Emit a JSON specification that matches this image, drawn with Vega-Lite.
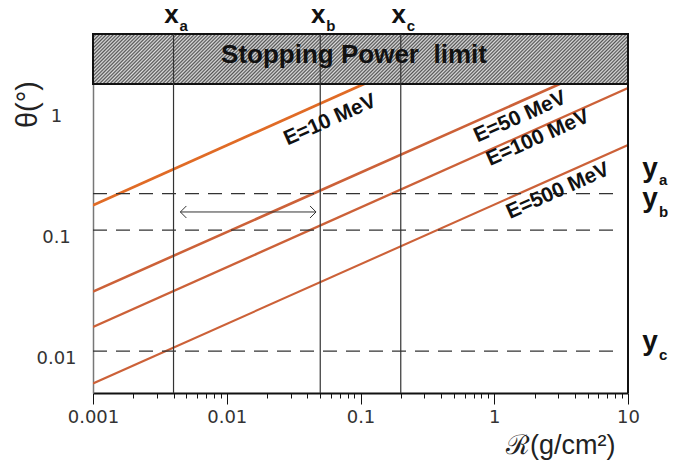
{
  "$schema": "https://vega.github.io/schema/vega-lite/v6.json",
  "width": 535,
  "height": 359,
  "autosize": {"type": "none"},
  "padding": {"left": 93, "top": 34, "right": 46, "bottom": 74},
  "background": "white",
  "config": {"view": {"stroke": null}, "axis": {"grid": false}},
  "resolve": {"axis": {"x": "independent"}},
  "datasets": {
    "lines": [
      {"E": "10", "R": 0.001, "theta": 0.16},
      {"E": "10", "R": 10, "theta": 15.3},
      {"E": "50", "R": 0.001, "theta": 0.031},
      {"E": "50", "R": 10, "theta": 2.87},
      {"E": "100", "R": 0.001, "theta": 0.0158},
      {"E": "100", "R": 10, "theta": 1.49},
      {"E": "500", "R": 0.001, "theta": 0.0054},
      {"E": "500", "R": 10, "theta": 0.504}
    ],
    "hlines": [{"theta": 0.2}, {"theta": 0.1}, {"theta": 0.01}],
    "vlines": [{"R": 0.004}, {"R": 0.05}, {"R": 0.2}],
    "frame": [{"R": 10}],
    "arrow": [
      {"end": "left", "R": 0.0045, "theta": 0.141},
      {"end": "right", "R": 0.0465, "theta": 0.141}
    ],
    "box": [{"R": 0.001, "R2": 10, "theta": 1.61, "theta2": 4.17}],
    "boxtext": [{"label": "Stopping Power\u00a0 limit", "R": 0.0894, "theta": 2.8}],
    "elabels": [
      {"label": "E=10 MeV", "R": 0.0592, "theta": 0.811},
      {"label": "E=50 MeV", "R": 1.56, "theta": 0.86},
      {"label": "E=100 MeV", "R": 2.12, "theta": 0.576},
      {"label": "E=500 MeV", "R": 3.0, "theta": 0.21}
    ],
    "xlabels": [
      {"main": "x", "sub": "a", "R": 0.004, "theta": 5.14, "theta2": 4.42},
      {"main": "x", "sub": "b", "R": 0.05, "theta": 5.14, "theta2": 4.42},
      {"main": "x", "sub": "c", "R": 0.2, "theta": 5.14, "theta2": 4.42}
    ],
    "ylabels": [
      {"main": "y", "sub": "a", "R": 14.6, "theta": 0.274, "theta2": 0.235},
      {"main": "y", "sub": "b", "R": 14.6, "theta": 0.155, "theta2": 0.128},
      {"main": "y", "sub": "c", "R": 14.6, "theta": 0.0102, "theta2": 0.00843}
    ]
  },
  "layer": [
    {
      "data": {"name": "lines"},
      "mark": {"type": "line", "clip": true},
      "encoding": {
        "x": {
          "field": "R", "type": "quantitative",
          "scale": {"type": "log", "domain": [0.001, 10], "nice": false, "zero": false},
          "axis": {
            "orient": "bottom",
            "values": [0.001, 0.01, 0.1, 1, 10],
            "labelExpr": "'' + datum.value",
            "tickSize": 11,
            "tickColor": "#111",
            "tickWidth": 1,
            "domainColor": "#111",
            "domainWidth": 2,
            "labelFont": "DejaVu Sans",
            "labelFontSize": 18,
            "labelColor": "#333",
            "labelPadding": 4,
            "labelFlush": false,
            "labelOverlap": false,
            "title": "ℛ(g/cm²)",
            "titleFont": "Liberation Sans",
            "titleFontSize": 27,
            "titleFontWeight": "normal",
            "titleColor": "#222",
            "titleAlign": "right",
            "titleAnchor": "end",
            "titleX": 522,
            "titleY": 60,
            "titleBaseline": "alphabetic"
          }
        },
        "y": {
          "field": "theta", "type": "quantitative",
          "scale": {"type": "log", "domain": [0.0045, 4.17], "nice": false, "zero": false},
          "axis": {
            "values": [0.01, 0.1, 1],
            "labelExpr": "'' + datum.value",
            "ticks": false,
            "tickSize": 0,
            "labelAlign": "center",
            "labelPadding": 37,
            "labelOffset": 7,
            "labelFont": "DejaVu Sans",
            "labelFontSize": 18,
            "labelColor": "#333",
            "domainColor": "#777",
            "domainWidth": 1.5,
            "title": "θ(°)",
            "titleFont": "Liberation Sans",
            "titleFontSize": 29,
            "titleFontWeight": "normal",
            "titleColor": "#222",
            "titleX": -66,
            "titleY": 70,
            "titleAngle": 270,
            "titleAlign": "center",
            "titleBaseline": "middle"
          }
        },
        "color": {
          "field": "E", "type": "nominal",
          "scale": {"domain": ["10", "50", "100", "500"], "range": ["#e06b26", "#cc6138", "#cc6138", "#cc6138"]},
          "legend": null
        },
        "size": {
          "field": "E", "type": "nominal",
          "scale": {"domain": ["10", "50", "100", "500"], "range": [2.8, 2.1, 2.1, 2.1]},
          "legend": null
        },
        "detail": {"field": "E"}
      }
    },
    {
      "data": {"name": "hlines"},
      "mark": {"type": "rule", "color": "#333", "strokeWidth": 1.2, "strokeDash": [14, 9]},
      "encoding": {
        "y": {"field": "theta", "type": "quantitative"},
        "x": {"datum": 0.001, "axis": null},
        "x2": {"datum": 9}
      }
    },
    {
      "data": {"name": "arrow"},
      "mark": {"type": "line", "color": "#333", "strokeWidth": 1},
      "encoding": {
        "x": {"field": "R", "type": "quantitative", "axis": null},
        "y": {"field": "theta", "type": "quantitative"}
      }
    },
    {
      "data": {"name": "arrow"},
      "transform": [{"filter": "datum.end == 'left'"}],
      "mark": {"type": "point", "shape": "M1,-1L0,0L1,1", "size": 144, "filled": false, "stroke": "#333", "strokeWidth": 1, "opacity": 1},
      "encoding": {
        "x": {"field": "R", "type": "quantitative", "axis": null},
        "y": {"field": "theta", "type": "quantitative"}
      }
    },
    {
      "data": {"name": "arrow"},
      "transform": [{"filter": "datum.end == 'right'"}],
      "mark": {"type": "point", "shape": "M-1,-1L0,0L-1,1", "size": 144, "filled": false, "stroke": "#333", "strokeWidth": 1, "opacity": 1},
      "encoding": {
        "x": {"field": "R", "type": "quantitative", "axis": null},
        "y": {"field": "theta", "type": "quantitative"}
      }
    },
    {
      "data": {"name": "box"},
      "mark": {
        "type": "rect",
        "stroke": "#111",
        "strokeWidth": 2,
        "fill": {
          "gradient": "linear", "x1": 0, "y1": 0, "x2": 1.084, "y2": 0.1013,
          "stops": [
            {"offset":0,"color":"#555"},{"offset":0.003,"color":"#ddd"},{"offset":0.006,"color":"#555"},{"offset":0.009,"color":"#ddd"},{"offset":0.012,"color":"#555"},{"offset":0.015,"color":"#ddd"},{"offset":0.018,"color":"#555"},{"offset":0.021,"color":"#ddd"},{"offset":0.024,"color":"#555"},{"offset":0.027,"color":"#ddd"},
            {"offset":0.03,"color":"#555"},{"offset":0.033,"color":"#ddd"},{"offset":0.036,"color":"#555"},{"offset":0.039,"color":"#ddd"},{"offset":0.042,"color":"#555"},{"offset":0.045,"color":"#ddd"},{"offset":0.048,"color":"#555"},{"offset":0.051,"color":"#ddd"},{"offset":0.054,"color":"#555"},{"offset":0.057,"color":"#ddd"},
            {"offset":0.06,"color":"#555"},{"offset":0.063,"color":"#ddd"},{"offset":0.066,"color":"#555"},{"offset":0.069,"color":"#ddd"},{"offset":0.072,"color":"#555"},{"offset":0.075,"color":"#ddd"},{"offset":0.078,"color":"#555"},{"offset":0.081,"color":"#ddd"},{"offset":0.084,"color":"#555"},{"offset":0.087,"color":"#ddd"},
            {"offset":0.09,"color":"#555"},{"offset":0.093,"color":"#ddd"},{"offset":0.096,"color":"#555"},{"offset":0.099,"color":"#ddd"},{"offset":0.102,"color":"#555"},{"offset":0.105,"color":"#ddd"},{"offset":0.108,"color":"#555"},{"offset":0.111,"color":"#ddd"},{"offset":0.114,"color":"#555"},{"offset":0.117,"color":"#ddd"},
            {"offset":0.12,"color":"#555"},{"offset":0.123,"color":"#ddd"},{"offset":0.126,"color":"#555"},{"offset":0.129,"color":"#ddd"},{"offset":0.132,"color":"#555"},{"offset":0.135,"color":"#ddd"},{"offset":0.138,"color":"#555"},{"offset":0.141,"color":"#ddd"},{"offset":0.144,"color":"#555"},{"offset":0.147,"color":"#ddd"},
            {"offset":0.15,"color":"#555"},{"offset":0.153,"color":"#ddd"},{"offset":0.156,"color":"#555"},{"offset":0.159,"color":"#ddd"},{"offset":0.162,"color":"#555"},{"offset":0.165,"color":"#ddd"},{"offset":0.168,"color":"#555"},{"offset":0.171,"color":"#ddd"},{"offset":0.174,"color":"#555"},{"offset":0.177,"color":"#ddd"},
            {"offset":0.18,"color":"#555"},{"offset":0.183,"color":"#ddd"},{"offset":0.186,"color":"#555"},{"offset":0.189,"color":"#ddd"},{"offset":0.192,"color":"#555"},{"offset":0.195,"color":"#ddd"},{"offset":0.198,"color":"#555"},{"offset":0.201,"color":"#ddd"},{"offset":0.204,"color":"#555"},{"offset":0.207,"color":"#ddd"},
            {"offset":0.21,"color":"#555"},{"offset":0.213,"color":"#ddd"},{"offset":0.216,"color":"#555"},{"offset":0.219,"color":"#ddd"},{"offset":0.222,"color":"#555"},{"offset":0.225,"color":"#ddd"},{"offset":0.228,"color":"#555"},{"offset":0.231,"color":"#ddd"},{"offset":0.234,"color":"#555"},{"offset":0.237,"color":"#ddd"},
            {"offset":0.24,"color":"#555"},{"offset":0.243,"color":"#ddd"},{"offset":0.246,"color":"#555"},{"offset":0.249,"color":"#ddd"},{"offset":0.252,"color":"#555"},{"offset":0.255,"color":"#ddd"},{"offset":0.258,"color":"#555"},{"offset":0.261,"color":"#ddd"},{"offset":0.264,"color":"#555"},{"offset":0.267,"color":"#ddd"},
            {"offset":0.27,"color":"#555"},{"offset":0.273,"color":"#ddd"},{"offset":0.276,"color":"#555"},{"offset":0.279,"color":"#ddd"},{"offset":0.282,"color":"#555"},{"offset":0.285,"color":"#ddd"},{"offset":0.288,"color":"#555"},{"offset":0.291,"color":"#ddd"},{"offset":0.294,"color":"#555"},{"offset":0.297,"color":"#ddd"},
            {"offset":0.3,"color":"#555"},{"offset":0.303,"color":"#ddd"},{"offset":0.306,"color":"#555"},{"offset":0.309,"color":"#ddd"},{"offset":0.312,"color":"#555"},{"offset":0.315,"color":"#ddd"},{"offset":0.318,"color":"#555"},{"offset":0.321,"color":"#ddd"},{"offset":0.324,"color":"#555"},{"offset":0.327,"color":"#ddd"},
            {"offset":0.33,"color":"#555"},{"offset":0.333,"color":"#ddd"},{"offset":0.336,"color":"#555"},{"offset":0.339,"color":"#ddd"},{"offset":0.342,"color":"#555"},{"offset":0.345,"color":"#ddd"},{"offset":0.348,"color":"#555"},{"offset":0.351,"color":"#ddd"},{"offset":0.354,"color":"#555"},{"offset":0.357,"color":"#ddd"},
            {"offset":0.36,"color":"#555"},{"offset":0.363,"color":"#ddd"},{"offset":0.366,"color":"#555"},{"offset":0.369,"color":"#ddd"},{"offset":0.372,"color":"#555"},{"offset":0.375,"color":"#ddd"},{"offset":0.378,"color":"#555"},{"offset":0.381,"color":"#ddd"},{"offset":0.384,"color":"#555"},{"offset":0.387,"color":"#ddd"},
            {"offset":0.39,"color":"#555"},{"offset":0.393,"color":"#ddd"},{"offset":0.396,"color":"#555"},{"offset":0.399,"color":"#ddd"},{"offset":0.402,"color":"#555"},{"offset":0.405,"color":"#ddd"},{"offset":0.408,"color":"#555"},{"offset":0.411,"color":"#ddd"},{"offset":0.414,"color":"#555"},{"offset":0.417,"color":"#ddd"},
            {"offset":0.42,"color":"#555"},{"offset":0.423,"color":"#ddd"},{"offset":0.426,"color":"#555"},{"offset":0.429,"color":"#ddd"},{"offset":0.432,"color":"#555"},{"offset":0.435,"color":"#ddd"},{"offset":0.438,"color":"#555"},{"offset":0.441,"color":"#ddd"},{"offset":0.444,"color":"#555"},{"offset":0.447,"color":"#ddd"},
            {"offset":0.45,"color":"#555"},{"offset":0.453,"color":"#ddd"},{"offset":0.456,"color":"#555"},{"offset":0.459,"color":"#ddd"},{"offset":0.462,"color":"#555"},{"offset":0.465,"color":"#ddd"},{"offset":0.468,"color":"#555"},{"offset":0.471,"color":"#ddd"},{"offset":0.474,"color":"#555"},{"offset":0.477,"color":"#ddd"},
            {"offset":0.48,"color":"#555"},{"offset":0.483,"color":"#ddd"},{"offset":0.486,"color":"#555"},{"offset":0.489,"color":"#ddd"},{"offset":0.492,"color":"#555"},{"offset":0.495,"color":"#ddd"},{"offset":0.498,"color":"#555"},{"offset":0.501,"color":"#ddd"},{"offset":0.504,"color":"#555"},{"offset":0.507,"color":"#ddd"},
            {"offset":0.51,"color":"#555"},{"offset":0.513,"color":"#ddd"},{"offset":0.516,"color":"#555"},{"offset":0.519,"color":"#ddd"},{"offset":0.522,"color":"#555"},{"offset":0.525,"color":"#ddd"},{"offset":0.528,"color":"#555"},{"offset":0.531,"color":"#ddd"},{"offset":0.534,"color":"#555"},{"offset":0.537,"color":"#ddd"},
            {"offset":0.54,"color":"#555"},{"offset":0.543,"color":"#ddd"},{"offset":0.546,"color":"#555"},{"offset":0.549,"color":"#ddd"},{"offset":0.552,"color":"#555"},{"offset":0.555,"color":"#ddd"},{"offset":0.558,"color":"#555"},{"offset":0.561,"color":"#ddd"},{"offset":0.564,"color":"#555"},{"offset":0.567,"color":"#ddd"},
            {"offset":0.57,"color":"#555"},{"offset":0.573,"color":"#ddd"},{"offset":0.576,"color":"#555"},{"offset":0.579,"color":"#ddd"},{"offset":0.582,"color":"#555"},{"offset":0.585,"color":"#ddd"},{"offset":0.588,"color":"#555"},{"offset":0.591,"color":"#ddd"},{"offset":0.594,"color":"#555"},{"offset":0.597,"color":"#ddd"},
            {"offset":0.6,"color":"#555"},{"offset":0.603,"color":"#ddd"},{"offset":0.606,"color":"#555"},{"offset":0.609,"color":"#ddd"},{"offset":0.612,"color":"#555"},{"offset":0.615,"color":"#ddd"},{"offset":0.618,"color":"#555"},{"offset":0.621,"color":"#ddd"},{"offset":0.624,"color":"#555"},{"offset":0.627,"color":"#ddd"},
            {"offset":0.63,"color":"#555"},{"offset":0.633,"color":"#ddd"},{"offset":0.636,"color":"#555"},{"offset":0.639,"color":"#ddd"},{"offset":0.642,"color":"#555"},{"offset":0.645,"color":"#ddd"},{"offset":0.648,"color":"#555"},{"offset":0.651,"color":"#ddd"},{"offset":0.654,"color":"#555"},{"offset":0.657,"color":"#ddd"},
            {"offset":0.66,"color":"#555"},{"offset":0.663,"color":"#ddd"},{"offset":0.666,"color":"#555"},{"offset":0.669,"color":"#ddd"},{"offset":0.672,"color":"#555"},{"offset":0.675,"color":"#ddd"},{"offset":0.678,"color":"#555"},{"offset":0.681,"color":"#ddd"},{"offset":0.684,"color":"#555"},{"offset":0.687,"color":"#ddd"},
            {"offset":0.69,"color":"#555"},{"offset":0.693,"color":"#ddd"},{"offset":0.696,"color":"#555"},{"offset":0.699,"color":"#ddd"},{"offset":0.702,"color":"#555"},{"offset":0.705,"color":"#ddd"},{"offset":0.708,"color":"#555"},{"offset":0.711,"color":"#ddd"},{"offset":0.714,"color":"#555"},{"offset":0.717,"color":"#ddd"},
            {"offset":0.72,"color":"#555"},{"offset":0.723,"color":"#ddd"},{"offset":0.726,"color":"#555"},{"offset":0.729,"color":"#ddd"},{"offset":0.732,"color":"#555"},{"offset":0.735,"color":"#ddd"},{"offset":0.738,"color":"#555"},{"offset":0.741,"color":"#ddd"},{"offset":0.744,"color":"#555"},{"offset":0.747,"color":"#ddd"},
            {"offset":0.75,"color":"#555"},{"offset":0.753,"color":"#ddd"},{"offset":0.756,"color":"#555"},{"offset":0.759,"color":"#ddd"},{"offset":0.762,"color":"#555"},{"offset":0.765,"color":"#ddd"},{"offset":0.768,"color":"#555"},{"offset":0.771,"color":"#ddd"},{"offset":0.774,"color":"#555"},{"offset":0.777,"color":"#ddd"},
            {"offset":0.78,"color":"#555"},{"offset":0.783,"color":"#ddd"},{"offset":0.786,"color":"#555"},{"offset":0.789,"color":"#ddd"},{"offset":0.792,"color":"#555"},{"offset":0.795,"color":"#ddd"},{"offset":0.798,"color":"#555"},{"offset":0.801,"color":"#ddd"},{"offset":0.804,"color":"#555"},{"offset":0.807,"color":"#ddd"},
            {"offset":0.81,"color":"#555"},{"offset":0.813,"color":"#ddd"},{"offset":0.816,"color":"#555"},{"offset":0.819,"color":"#ddd"},{"offset":0.822,"color":"#555"},{"offset":0.825,"color":"#ddd"},{"offset":0.828,"color":"#555"},{"offset":0.831,"color":"#ddd"},{"offset":0.834,"color":"#555"},{"offset":0.837,"color":"#ddd"},
            {"offset":0.84,"color":"#555"},{"offset":0.843,"color":"#ddd"},{"offset":0.846,"color":"#555"},{"offset":0.849,"color":"#ddd"},{"offset":0.852,"color":"#555"},{"offset":0.855,"color":"#ddd"},{"offset":0.858,"color":"#555"},{"offset":0.861,"color":"#ddd"},{"offset":0.864,"color":"#555"},{"offset":0.867,"color":"#ddd"},
            {"offset":0.87,"color":"#555"},{"offset":0.873,"color":"#ddd"},{"offset":0.876,"color":"#555"},{"offset":0.879,"color":"#ddd"},{"offset":0.882,"color":"#555"},{"offset":0.885,"color":"#ddd"},{"offset":0.888,"color":"#555"},{"offset":0.891,"color":"#ddd"},{"offset":0.894,"color":"#555"},{"offset":0.897,"color":"#ddd"},
            {"offset":0.9,"color":"#555"},{"offset":0.903,"color":"#ddd"},{"offset":0.906,"color":"#555"},{"offset":0.909,"color":"#ddd"},{"offset":0.912,"color":"#555"},{"offset":0.915,"color":"#ddd"},{"offset":0.918,"color":"#555"},{"offset":0.921,"color":"#ddd"},{"offset":0.924,"color":"#555"},{"offset":0.927,"color":"#ddd"},
            {"offset":0.93,"color":"#555"},{"offset":0.933,"color":"#ddd"},{"offset":0.936,"color":"#555"},{"offset":0.939,"color":"#ddd"},{"offset":0.942,"color":"#555"},{"offset":0.945,"color":"#ddd"},{"offset":0.948,"color":"#555"},{"offset":0.951,"color":"#ddd"},{"offset":0.954,"color":"#555"},{"offset":0.957,"color":"#ddd"},
            {"offset":0.96,"color":"#555"},{"offset":0.963,"color":"#ddd"},{"offset":0.966,"color":"#555"},{"offset":0.969,"color":"#ddd"},{"offset":0.972,"color":"#555"},{"offset":0.975,"color":"#ddd"},{"offset":0.978,"color":"#555"},{"offset":0.981,"color":"#ddd"},{"offset":0.984,"color":"#555"},{"offset":0.987,"color":"#ddd"},
            {"offset":0.99,"color":"#555"},{"offset":0.993,"color":"#ddd"},{"offset":0.996,"color":"#555"},{"offset":0.999,"color":"#ddd"}
          ]
        }
      },
      "encoding": {
        "x": {"field": "R", "type": "quantitative", "axis": null},
        "x2": {"field": "R2"},
        "y": {"field": "theta", "type": "quantitative"},
        "y2": {"field": "theta2"}
      }
    },
    {
      "data": {"name": "vlines"},
      "mark": {"type": "rule", "color": "#333", "strokeWidth": 1.2},
      "encoding": {"x": {"field": "R", "type": "quantitative", "axis": null}}
    },
    {
      "data": {"name": "frame"},
      "mark": {"type": "rule", "color": "#111", "strokeWidth": 2},
      "encoding": {
        "x": {
          "field": "R", "type": "quantitative",
          "axis": {
            "orient": "bottom",
            "values": [0.002,0.003,0.004,0.005,0.006,0.007,0.008,0.009,0.02,0.03,0.04,0.05,0.06,0.07,0.08,0.09,0.2,0.3,0.4,0.5,0.6,0.7,0.8,0.9,2,3,4,5,6,7,8,9],
            "labels": false,
            "domain": false,
            "tickSize": 5,
            "tickColor": "#111",
            "tickWidth": 1,
            "title": null
          }
        }
      }
    },
    {
      "data": {"name": "boxtext"},
      "mark": {"type": "text", "font": "Liberation Sans", "fontWeight": "bold", "fontSize": 26, "color": "#111", "align": "center", "baseline": "middle"},
      "encoding": {
        "x": {"field": "R", "type": "quantitative", "axis": null},
        "y": {"field": "theta", "type": "quantitative"},
        "text": {"field": "label"}
      }
    },
    {
      "data": {"name": "elabels"},
      "mark": {"type": "text", "font": "Liberation Sans", "fontWeight": "bold", "fontSize": 21, "color": "#111", "align": "center", "baseline": "middle", "angle": 336},
      "encoding": {
        "x": {"field": "R", "type": "quantitative", "axis": null},
        "y": {"field": "theta", "type": "quantitative"},
        "text": {"field": "label"}
      }
    },
    {
      "data": {"name": "xlabels"},
      "mark": {"type": "text", "font": "Liberation Sans", "fontWeight": "bold", "fontSize": 26, "color": "#111", "align": "center", "baseline": "alphabetic", "dx": -2},
      "encoding": {
        "x": {"field": "R", "type": "quantitative", "axis": null},
        "y": {"field": "theta", "type": "quantitative"},
        "text": {"field": "main"}
      }
    },
    {
      "data": {"name": "xlabels"},
      "mark": {"type": "text", "font": "Liberation Sans", "fontWeight": "bold", "fontSize": 15, "color": "#111", "align": "left", "baseline": "alphabetic", "dx": 6},
      "encoding": {
        "x": {"field": "R", "type": "quantitative", "axis": null},
        "y": {"field": "theta2", "type": "quantitative"},
        "text": {"field": "sub"}
      }
    },
    {
      "data": {"name": "ylabels"},
      "mark": {"type": "text", "font": "Liberation Sans", "fontWeight": "bold", "fontSize": 28, "color": "#111", "align": "center", "baseline": "alphabetic"},
      "encoding": {
        "x": {"field": "R", "type": "quantitative", "axis": null},
        "y": {"field": "theta", "type": "quantitative"},
        "text": {"field": "main"}
      }
    },
    {
      "data": {"name": "ylabels"},
      "mark": {"type": "text", "font": "Liberation Sans", "fontWeight": "bold", "fontSize": 15, "color": "#111", "align": "left", "baseline": "alphabetic", "dx": 9},
      "encoding": {
        "x": {"field": "R", "type": "quantitative", "axis": null},
        "y": {"field": "theta2", "type": "quantitative"},
        "text": {"field": "sub"}
      }
    }
  ]
}
